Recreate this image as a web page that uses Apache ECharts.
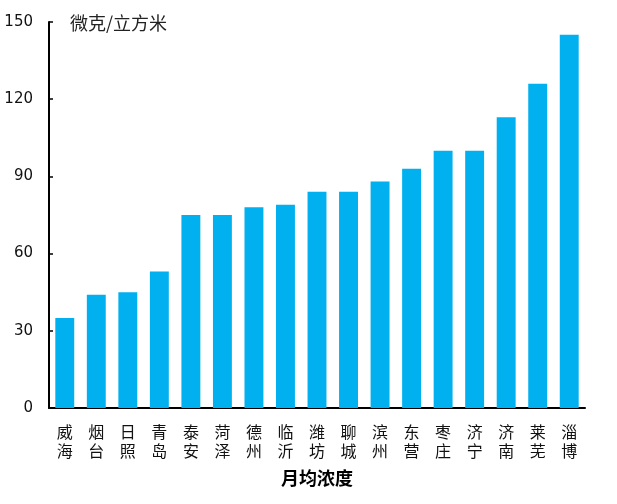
<!DOCTYPE html>
<html><head><meta charset="utf-8">
<script src="https://cdn.jsdelivr.net/npm/echarts@6/dist/echarts.min.js"></script>
<style>html,body{margin:0;padding:0;background:#fff}#c{width:617px;height:504px}</style>
</head><body><div id="c"></div>
<script>
var categories = ['威海','烟台','日照','青岛','泰安','菏泽','德州','临沂','潍坊','聊城','滨州','东营','枣庄','济宁','济南','莱芜','淄博'];
var values = [35,44,45,53,75,75,78,79,84,84,88,93,100,100,113,126,145];
var yTicks = {min:0, max:150, interval:30};
var unitText = '微克/立方米';
var axisName = '月均浓度';

var chart = echarts.init(document.getElementById('c'), null, {renderer:'canvas'});
chart.setOption({
  animation:false,
  backgroundColor:'#fff',
  grid:{left:49,right:32,top:22,bottom:96,containLabel:false},
  graphic:[{type:'text',left:70,top:14,style:{text:unitText,font:'18px "Noto Sans CJK SC"',fill:'#222'}}],
  xAxis:{
    type:'category',data:categories,
    name:axisName,nameLocation:'middle',nameGap:61,
    nameTextStyle:{fontFamily:'Noto Sans CJK SC',fontSize:18,fontWeight:'bold',color:'#000'},
    axisLine:{lineStyle:{color:'#000',width:2}},
    axisTick:{inside:true,length:4,lineStyle:{color:'#000',width:1.5}},
    axisLabel:{interval:0,margin:14,fontFamily:'Noto Sans CJK SC',fontSize:16,color:'#111',lineHeight:19,
      formatter:function(v){return v.split('').join('\n');}}
  },
  yAxis:{
    type:'value',min:yTicks.min,max:yTicks.max,interval:yTicks.interval,
    axisLine:{show:true,lineStyle:{color:'#000',width:2}},
    axisTick:{show:true,inside:true,length:4,lineStyle:{color:'#000',width:1.5}},
    splitLine:{show:false},
    axisLabel:{margin:16,fontFamily:'DejaVu Sans',fontSize:15,color:'#111'}
  },
  series:[{type:'bar',data:values,barWidth:'60%',itemStyle:{color:'#00B0EF'}}]
});
</script></body></html>
